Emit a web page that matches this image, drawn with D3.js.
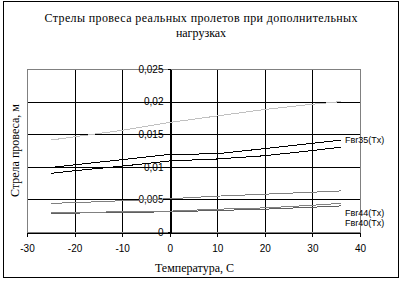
<!DOCTYPE html>
<html>
<script src='https://d3js.org/d3.v7.min.js'></script>
<style>
 body {margin:0; background:white;}
 text {font-family: 'Liberation Sans', Arial, sans-serif; font-size:10px;}
 .serif {font-family: 'Liberation Serif', 'Times New Roman', serif; font-size:12px;}
 .grid line {stroke:black; shape-rendering:crispEdges;}
 path.s {fill:none; stroke-width:1; shape-rendering:crispEdges;}
</style>
<body onload='init()'>
<svg width=403 height=282></svg>
<script>
// temperatures, C
var temps = [-25, -20, -10, 0, 10, 20, 30, 36];
// sag values, m
var lightSeries = [0.0141, 0.0146, 0.0156, 0.0168, 0.0178, 0.0188, 0.0196, 0.0200];
var fvr35 = [0.0099, 0.0103, 0.0111, 0.0119, 0.0120, 0.0128, 0.0136, 0.0141];
var blackLow = [0.0090, 0.0094, 0.0101, 0.0109, 0.0112, 0.0117, 0.0125, 0.0130];
var grayMid = [0.0044, 0.0045, 0.0048, 0.0051, 0.0055, 0.0058, 0.0061, 0.0063];
var fvr44 = [0.0030, 0.0030, 0.0031, 0.0032, 0.0035, 0.0037, 0.0041, 0.0044];
var fvr40 = [0.0028, 0.0029, 0.0030, 0.0031, 0.0033, 0.0035, 0.0038, 0.0040];
var xTicks = [-30, -20, -10, 0, 10, 20, 30, 40];
var yTicks = [0, 0.005, 0.01, 0.015, 0.02, 0.025];
var yLabels = ['0', '0,005', '0,01', '0,015', '0,02', '0,025'];

function init() {
  var svg = d3.select('svg');
  var xs = d3.scaleLinear().domain([-30, 40]).range([27, 360]);
  var ys = d3.scaleLinear().domain([0, 0.025]).range([232, 69]);

  // outer frame
  svg.append('rect').attr('x', 3.5).attr('y', 1.5).attr('width', 395).attr('height', 276)
    .attr('fill', 'white').attr('stroke', 'black').style('shape-rendering', 'crispEdges');

  // title
  svg.append('text').attr('class', 'serif').attr('x', 201).attr('y', 22)
    .attr('text-anchor', 'middle').attr('textLength', 313).attr('lengthAdjust', 'spacing')
    .text('Стрелы провеса реальных пролетов при дополнительных');
  svg.append('text').attr('class', 'serif').attr('x', 201).attr('y', 37)
    .attr('text-anchor', 'middle').text('нагрузках');

  // grid
  var g = svg.append('g').attr('class', 'grid');
  g.selectAll('.v').data(xTicks.filter(function(t){return t > -30 && t < 40;}))
    .enter().append('line')
      .attr('x1', function(d){return Math.round(xs(d)) + 0.5;})
      .attr('x2', function(d){return Math.round(xs(d)) + 0.5;})
      .attr('y1', ys(0.025)).attr('y2', ys(0));
  g.selectAll('.h').data(yTicks.filter(function(t){return t > 0 && t < 0.025;}))
    .enter().append('line')
      .attr('y1', function(d){return Math.round(ys(d)) + 0.5;})
      .attr('y2', function(d){return Math.round(ys(d)) + 0.5;})
      .attr('x1', xs(-30)).attr('x2', xs(40));

  // plot border (gray)
  svg.append('rect').attr('x', xs(-30) + 0.5).attr('y', ys(0.025) + 0.5)
    .attr('width', xs(40) - xs(-30)).attr('height', ys(0) - ys(0.025))
    .attr('fill', 'none').attr('stroke', '#808080').style('shape-rendering', 'crispEdges');

  // x axis
  svg.append('g').attr('class', 'grid')
    .attr('transform', 'translate(0,' + (ys(0) + 0.5) + ')')
    .call(d3.axisBottom(xs).tickValues(xTicks).tickSizeInner(4).tickSizeOuter(0).tickPadding(8)
      .tickFormat(function(d){return String(d);}))
    .call(function(a){
      a.select('.domain').attr('stroke', 'black').style('shape-rendering', 'crispEdges');
      a.selectAll('text').attr('font-family', null).attr('font-size', null).attr('fill', 'black');
    });

  // y axis at x = 0
  svg.append('g').attr('class', 'grid')
    .attr('transform', 'translate(' + (Math.round(xs(0)) + 0.5) + ',0)')
    .call(d3.axisLeft(ys).tickValues(yTicks).tickSizeInner(3).tickSizeOuter(0).tickPadding(4)
      .tickFormat(function(d, i){return yLabels[i];}))
    .call(function(a){
      a.select('.domain').attr('stroke', 'black').style('shape-rendering', 'crispEdges');
      a.selectAll('text').attr('font-family', null).attr('font-size', null).attr('fill', 'black');
    });

  // series
  var line = d3.line().x(function(d, i){return xs(temps[i]);}).y(function(d){return ys(d);});
  var series = [
    {v: lightSeries, c: '#c0c0c0'},
    {v: blackLow, c: '#000000'},
    {v: fvr35, c: '#000000'},
    {v: grayMid, c: '#808080'},
    {v: fvr40, c: '#606060'},
    {v: fvr44, c: '#808080'}
  ];
  svg.selectAll('path.s').data(series).enter().append('path')
    .attr('class', 's').attr('stroke', function(d){return d.c;})
    .attr('d', function(d){return line(d.v);});

  // series labels
  var last = temps.length - 1;
  var labels = [
    {t: 'Fвr35(Tx)', v: fvr35[last], dy: 0},
    {t: 'Fвr44(Tx)', v: fvr44[last], dy: 10},
    {t: 'Fвr40(Tx)', v: fvr40[last], dy: 17}
  ];
  svg.selectAll('text.lab').data(labels).enter().append('text')
    .attr('class', 'lab').style('font-size', '9px')
    .attr('x', xs(temps[last]) + 4)
    .attr('y', function(d){return ys(d.v) + d.dy;})
    .attr('dy', '0.35em')
    .text(function(d){return d.t;});

  // axis titles
  svg.append('text').attr('class', 'serif').attr('text-anchor', 'middle')
    .attr('transform', 'translate(19,' + ((ys(0) + ys(0.025)) / 2) + ') rotate(-90)')
    .text('Стрела провеса, м');
  svg.append('text').attr('class', 'serif').attr('text-anchor', 'middle')
    .attr('x', (xs(-30) + xs(40)) / 2 + 1).attr('y', 272)
    .text('Температура, С');
}
</script>
</body>
</html>
